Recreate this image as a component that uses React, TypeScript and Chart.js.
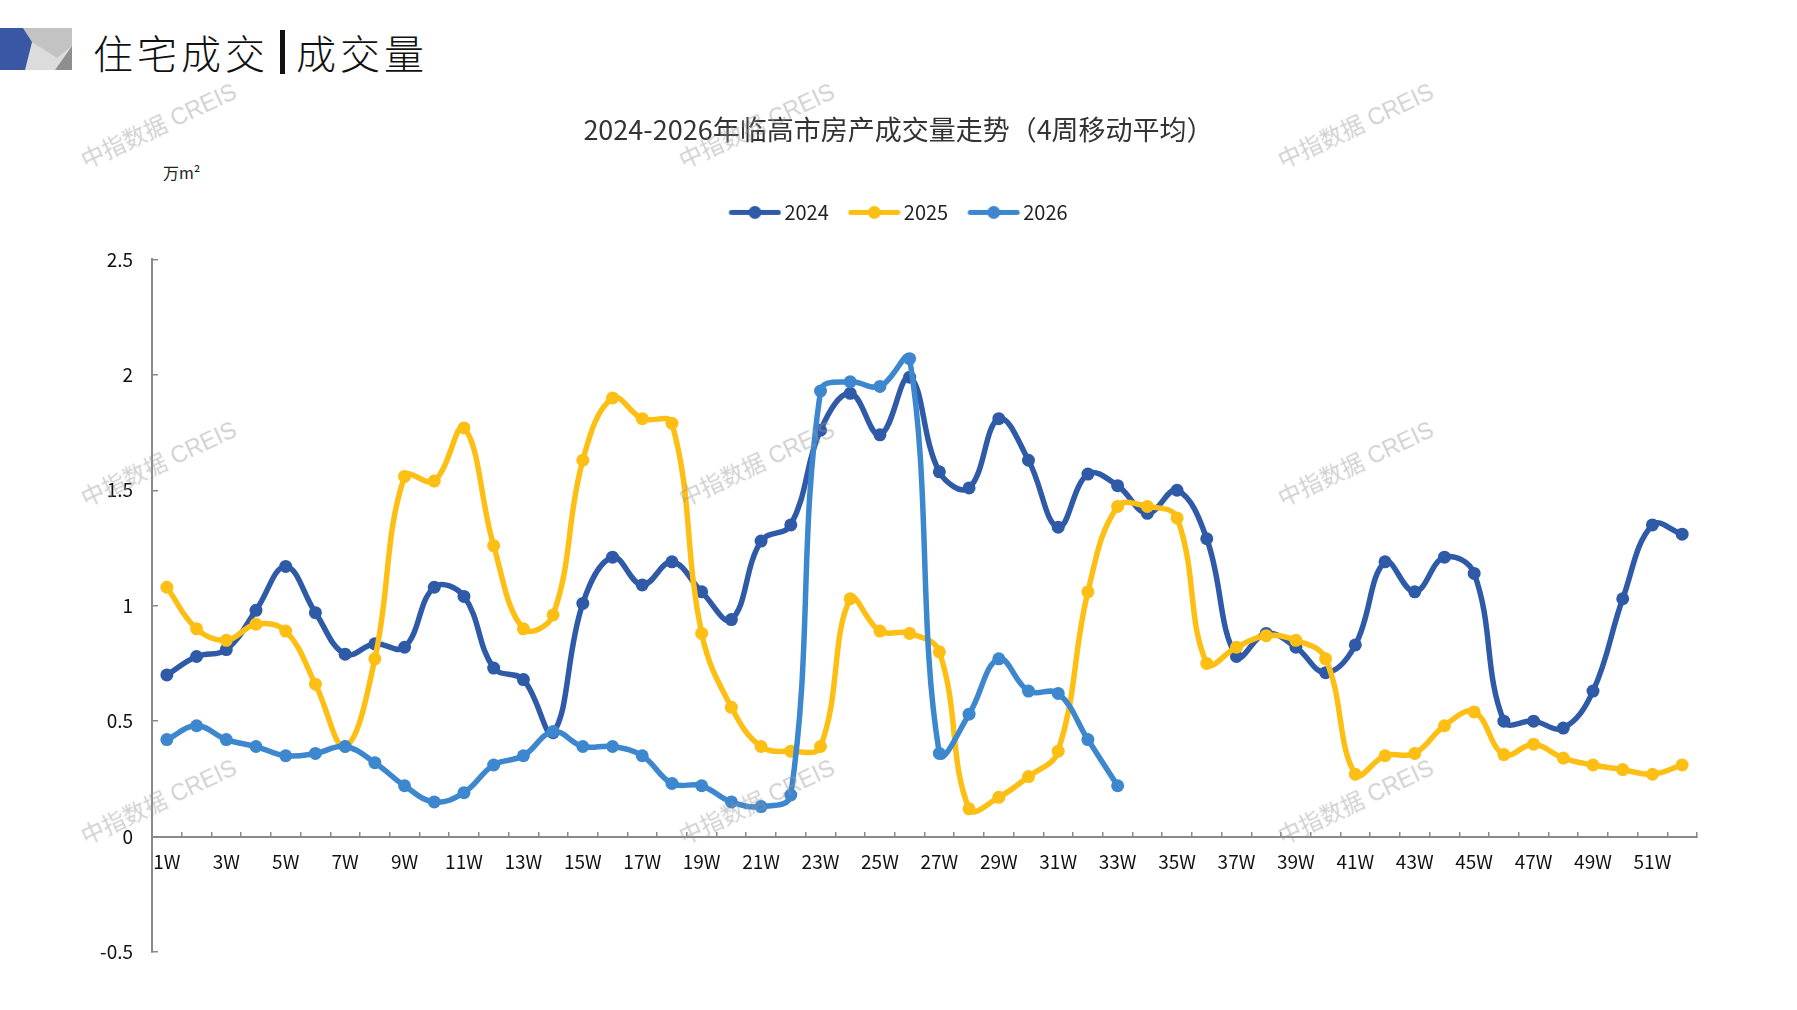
import { useEffect, useRef } from 'react'
import { Chart, registerables } from 'chart.js'
Chart.register(...registerables)

const WEEKS = ['1W','2W','3W','4W','5W','6W','7W','8W','9W','10W','11W','12W','13W','14W','15W','16W','17W','18W','19W','20W',
  '21W','22W','23W','24W','25W','26W','27W','28W','29W','30W','31W','32W','33W','34W','35W','36W','37W','38W','39W','40W',
  '41W','42W','43W','44W','45W','46W','47W','48W','49W','50W','51W','52W']

const V2024 = [0.70,0.78,0.81,0.98,1.17,0.97,0.79,0.835,0.82,1.08, 1.04,0.73,0.68,0.45,1.01,1.21,1.09,1.19,1.06,0.94,
  1.28,1.35,1.76,1.92,1.74,1.99,1.58,1.51,1.81,1.63, 1.34,1.57,1.52,1.40,1.50,1.29,0.78,0.88,0.82,0.71,
  0.83,1.19,1.06,1.21,1.14,0.50,0.50,0.47,0.63,1.03, 1.35,1.31]
const V2025 = [1.08,0.90,0.85,0.92,0.89,0.66,0.39,0.77,1.56,1.54, 1.77,1.26,0.90,0.96,1.63,1.90,1.81,1.79,0.88,0.56,
  0.39,0.37,0.39,1.03,0.89,0.88,0.80,0.12,0.17,0.26, 0.37,1.06,1.43,1.43,1.38,0.75,0.82,0.87,0.85,0.77,
  0.27,0.35,0.36,0.48,0.54,0.355,0.40,0.34,0.31,0.29, 0.27,0.31]
const V2026 = [0.42,0.48,0.42,0.39,0.35,0.36,0.39,0.32,0.22,0.15, 0.19,0.31,0.35,0.455,0.39,0.39,0.35,0.23,0.22,0.15,
  0.13,0.18,1.93,1.97,1.95,2.07,0.36,0.53,0.77,0.63, 0.62,0.42,0.22]

const SERIES = ['2024', '2025', '2026']
const COLORS = ['#2F5AA8', '#FDBF14', '#3D87CF']
const Y_TICKS = [-0.5, 0, 0.5, 1, 1.5, 2, 2.5]

const TITLE = '2024-2026年临高市房产成交量走势（4周移动平均）'
const CJK = "'Noto Sans CJK SC', sans-serif"
const TICK_FONT = "'Noto Sans CJK SC', sans-serif"
const AXIS = '#8a8a8a'

const WATERMARKS = [
  [158, 124], [756, 124], [1355, 124],
  [158, 462], [756, 462], [1355, 462],
  [158, 800], [756, 800], [1355, 800],
]

// legend mark: line with a dot, left part of the image kept empty so the mark starts at the item's x
function legendMark(color: string) {
  const c = document.createElement('canvas')
  c.width = 59
  c.height = 15
  const g = c.getContext('2d')!
  g.strokeStyle = color
  g.lineWidth = 5
  g.lineCap = 'round'
  g.beginPath(); g.moveTo(9, 7.5); g.lineTo(56, 7.5); g.stroke()
  g.fillStyle = color
  g.beginPath(); g.arc(32.5, 7.5, 6.5, 0, Math.PI * 2); g.fill()
  return c
}

function TrendChart() {
  const canvasRef = useRef<HTMLCanvasElement>(null)
  const chartRef = useRef<Chart | null>(null)

  useEffect(() => {
    if (!canvasRef.current) return
    chartRef.current?.destroy()
    const marks = COLORS.map(legendMark)
    const values = [V2024, V2025, V2026]
    chartRef.current = new Chart(canvasRef.current, {
      type: 'line',
      data: {
        labels: WEEKS,
        datasets: SERIES.map((name, i) => ({
          label: name,
          data: values[i],
          borderColor: COLORS[i],
          backgroundColor: COLORS[i],
          pointBackgroundColor: COLORS[i],
          pointBorderWidth: 0,
          pointRadius: 6.5,
          borderWidth: 5.5,
          tension: 0.4,
          fill: false,
          order: 3 - i,
        })),
      },
      options: {
        responsive: false,
        animation: false,
        layout: { padding: { left: 100, right: 100, top: 0, bottom: 58 } },
        plugins: {
          title: {
            display: true, text: TITLE, color: '#333',
            font: { size: 27, family: CJK, weight: 'normal' },
            padding: { top: 114, bottom: 36 },
          },
          // empty spacer between legend and plot
          subtitle: { display: true, text: '', weight: 900, padding: 0, font: { size: 10, lineHeight: '27px' } },
          legend: {
            labels: {
              usePointStyle: true,
              pointStyleWidth: 45,
              padding: 20,
              color: '#222',
              font: { size: 20, family: TICK_FONT },
              generateLabels: () => SERIES.map((name, i) => ({
                text: name, pointStyle: marks[i], fillStyle: COLORS[i], strokeStyle: COLORS[i],
                lineWidth: 0, hidden: false, datasetIndex: i, fontColor: '#222',
              })),
            },
          },
          tooltip: { enabled: false },
        },
        scales: {
          x: {
            type: 'category',
            offset: true,
            position: { y: 0 },
            grid: { display: true, drawOnChartArea: false, drawTicks: true, tickLength: -6, offset: true, color: AXIS, lineWidth: 1.5 },
            border: { display: true, color: AXIS, width: 2 },
            ticks: {
              autoSkip: false, maxRotation: 0, minRotation: 0, padding: 20, color: '#111',
              font: { size: 19, family: TICK_FONT },
              callback: (_v, i) => (i % 2 === 0 ? WEEKS[i] : ''),
            },
          },
          y: {
            min: Y_TICKS[0],
            max: Y_TICKS[Y_TICKS.length - 1],
            grid: { display: true, drawOnChartArea: false, drawTicks: true, tickLength: -6, color: AXIS, lineWidth: 1.5 },
            border: { display: true, color: AXIS, width: 2 },
            ticks: {
              stepSize: 0.5, padding: 25, color: '#111',
              font: { size: 19, family: TICK_FONT },
              callback: v => String(v),
            },
            afterFit: s => { s.width = 52 },
          },
        },
      },
    })
    return () => { chartRef.current?.destroy() }
  }, [])

  return <canvas ref={canvasRef} width={1797} height={1010} style={{ position: 'absolute', left: 0, top: 0 }} />
}

export default function App() {
  return (
    <div style={{ position: 'fixed', inset: 0, background: '#fff', overflow: 'hidden' }}>
      <svg width={80} height={50} style={{ position: 'absolute', left: 0, top: 24 }} viewBox="0 24 80 50">
        <rect x={20} y={28} width={52} height={42} fill="#dcdcdc" />
        <polygon points="23,28 72,28 72,46 57,58 32,42" fill="#c3c3c3" />
        <polygon points="72,46 72,70 55,70" fill="#8e8e8e" />
        <polygon points="0,28 23,28 32,42 25,70 0,70" fill="#3A57A6" />
      </svg>
      <div style={{ position: 'absolute', left: 93, top: 27, fontFamily: CJK, fontWeight: 300, fontSize: 40, letterSpacing: 4, color: '#111', whiteSpace: 'nowrap', display: 'flex', alignItems: 'center', height: 50 }}>
        <span>住宅成交</span>
        <span style={{ display: 'inline-block', width: 5, height: 44, background: '#111', margin: '0 11px 0 11px' }} />
        <span>成交量</span>
      </div>
      <div style={{ position: 'absolute', left: 163, top: 160, fontFamily: CJK, fontSize: 16, color: '#222' }}>万m²</div>
      <TrendChart />
      {WATERMARKS.map(([x, y], i) => (
        <div key={i} style={{
          position: 'absolute', left: x, top: y, transform: 'translate(-50%, -50%) rotate(-25deg)',
          fontFamily: "'Liberation Sans', 'Noto Sans CJK SC', sans-serif", fontSize: 23,
          color: 'rgba(150,150,150,0.45)', whiteSpace: 'nowrap', pointerEvents: 'none',
        }}>中指数据 CREIS</div>
      ))}
    </div>
  )
}
